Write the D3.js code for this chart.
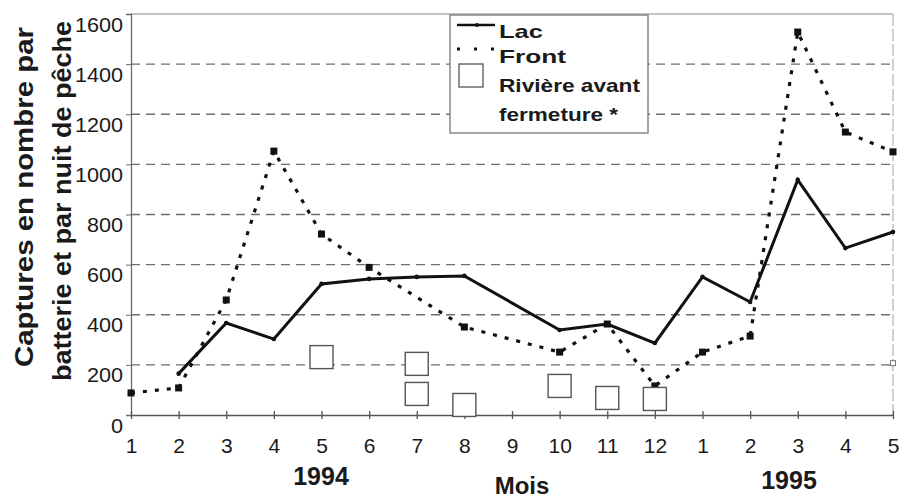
<!DOCTYPE html>
<html>
<head>
<meta charset="utf-8">
<script src="https://cdn.jsdelivr.net/npm/d3@7"></script>
<style>
  body { margin: 0; background: #fff; }
  text { font-family: "Liberation Sans", Arial, sans-serif; fill: #1a1a1a; }
</style>
</head>
<body>
<div id="chart"></div>
<script>
// Month labels along the x axis (Jan 1994 -> May 1995)
var mois = ["1", "2", "3", "4", "5", "6", "7", "8", "9", "10", "11", "12", "1", "2", "3", "4", "5"];
var yTicks = [0, 200, 400, 600, 800, 1000, 1200, 1400, 1600];

// Captures per battery per night (null = no sample)
var lac = [null, 165, 367, 303, 523, 543, 551, 555, null, 339, 363, 287, 551, 451, 938, 666, 730];
var front = [88, 108, 459, 1053, 722, 589, null, 351, null, 251, 363, 116, 251, 315, 1528, 1129, 1050];

// Rivière avant fermeture : [month index, value]
var riviere = [[4, 231], [6, 204], [6, 84], [7, 40], [9, 116], [10, 68], [11, 64]];
var riviereFin = [[16, 207]];

var width = 906, height = 500;
var svg = d3.select("#chart")
  .append("svg")
    .attr("width", width)
    .attr("height", height);

var x = d3.scaleLinear().domain([0, mois.length - 1]).range([131, 893]);
var y = d3.scaleLinear().domain([0, 1600]).range([415, 14]);

// grid lines (dashed)
svg.selectAll(".grid")
  .data(yTicks.slice(1, -1))
  .enter()
  .append("line")
  .attr("x1", 131).attr("x2", 893)
  .attr("y1", function(d) { return y(d); })
  .attr("y2", function(d) { return y(d); })
  .attr("stroke", "#6e6e6e")
  .attr("stroke-width", 1.3)
  .attr("stroke-dasharray", "9,6");

// frame top + right
svg.append("line").attr("x1", 131).attr("x2", 893).attr("y1", y(1600)).attr("y2", y(1600))
  .attr("stroke", "#8a8a8a").attr("stroke-width", 1.2);
svg.append("line").attr("x1", 893).attr("x2", 893).attr("y1", y(1600)).attr("y2", y(0))
  .attr("stroke", "#a0a0a0").attr("stroke-width", 1).attr("stroke-dasharray", "12,3");

// y axis - labels sit just under their tick
var yAxis = d3.axisLeft(y).tickValues(yTicks).tickFormat(d3.format("d")).tickSize(5).tickPadding(3);
var gy = svg.append("g").attr("transform", "translate(131,0)").call(yAxis);
gy.select(".domain").attr("stroke", "#6a6a6a").attr("stroke-width", 1.3);
gy.selectAll(".tick line").attr("stroke", "#6a6a6a");
gy.selectAll("text").attr("font-size", 20).attr("fill", "#1a1a1a").attr("dy", "0.95em")
  .attr("y", -2)
  .attr("textLength", function(d) { return String(d).length * 12; })
  .attr("lengthAdjust", "spacingAndGlyphs")
  .attr("font-family", "Liberation Sans, Arial, sans-serif");

// x axis
var xAxis = d3.axisBottom(x)
  .tickValues(d3.range(mois.length))
  .tickFormat(function(d) { return mois[d]; })
  .tickSizeInner(4).tickSizeOuter(0).tickPadding(0);
var gx = svg.append("g").attr("transform", "translate(0," + y(0) + ")").call(xAxis);
gx.select(".domain").attr("stroke", "#555").attr("stroke-width", 1.6);
gx.selectAll(".tick line").attr("y1", -4).attr("y2", 4).attr("stroke", "#555").attr("stroke-width", 1.3);
gx.selectAll("text").attr("font-size", 21).attr("fill", "#1a1a1a")
  .attr("y", 38).attr("dy", 0)
  .attr("font-family", "Liberation Sans, Arial, sans-serif");

// Front dotted line
var frontPts = front.map(function(v, i) { return [i, v]; }).filter(function(p) { return p[1] !== null; });
var lacPts = lac.map(function(v, i) { return [i, v]; }).filter(function(p) { return p[1] !== null; });
var line = d3.line()
  .x(function(p) { return x(p[0]); })
  .y(function(p) { return y(p[1]); });

svg.append("path")
  .datum(frontPts)
  .attr("d", line)
  .attr("fill", "none")
  .attr("stroke", "#111")
  .attr("stroke-width", 3.2)
  .attr("stroke-dasharray", "4,8");

svg.selectAll(".frontPt")
  .data(frontPts)
  .enter()
  .append("rect")
  .attr("x", function(p) { return x(p[0]) - 3.5; })
  .attr("y", function(p) { return y(p[1]) - 3.5; })
  .attr("width", 7).attr("height", 7)
  .attr("fill", "#111");

// Lac solid line
svg.append("path")
  .datum(lacPts)
  .attr("d", line)
  .attr("fill", "none")
  .attr("stroke", "#111")
  .attr("stroke-width", 3)
  .attr("stroke-linejoin", "miter");

svg.selectAll(".lacPt")
  .data(lacPts)
  .enter()
  .append("circle")
  .attr("cx", function(p) { return x(p[0]); })
  .attr("cy", function(p) { return y(p[1]); })
  .attr("r", 2.3)
  .attr("fill", "#111");

// Rivière squares
svg.selectAll(".riv")
  .data(riviere)
  .enter()
  .append("rect")
  .attr("x", function(p) { return x(p[0]) - 11.5; })
  .attr("y", function(p) { return y(p[1]) - 11.5; })
  .attr("width", 23).attr("height", 23)
  .attr("fill", "#fff")
  .attr("stroke", "#555")
  .attr("stroke-width", 1.4);

svg.selectAll(".rivFin")
  .data(riviereFin)
  .enter()
  .append("rect")
  .attr("x", function(p) { return x(p[0]) - 2.5; })
  .attr("y", function(p) { return y(p[1]) - 2.5; })
  .attr("width", 5).attr("height", 5)
  .attr("fill", "#fff")
  .attr("stroke", "#777")
  .attr("stroke-width", 1);

// Legend
var leg = svg.append("g");
leg.append("rect").attr("x", 450).attr("y", 15).attr("width", 198).attr("height", 118)
  .attr("fill", "#fff").attr("stroke", "#777").attr("stroke-width", 1.3);
leg.append("line").attr("x1", 457).attr("x2", 495).attr("y1", 25).attr("y2", 25)
  .attr("stroke", "#111").attr("stroke-width", 2.5);
leg.append("circle").attr("cx", 477).attr("cy", 25).attr("r", 2).attr("fill", "#111");
leg.append("line").attr("x1", 457).attr("x2", 497).attr("y1", 49).attr("y2", 49)
  .attr("stroke", "#111").attr("stroke-width", 3).attr("stroke-dasharray", "3,14");
leg.append("rect").attr("x", 459).attr("y", 64).attr("width", 24).attr("height", 23)
  .attr("fill", "#fff").attr("stroke", "#555").attr("stroke-width", 1.3);
var legText = [["Lac", 38, 44], ["Front", 63, 67], ["Rivière avant", 92, 141], ["fermeture *", 121, 119]];
leg.selectAll(".lt")
  .data(legText)
  .enter()
  .append("text")
  .attr("x", 499)
  .attr("y", function(d) { return d[1]; })
  .attr("font-size", 19)
  .attr("font-weight", "bold")
  .attr("textLength", function(d) { return d[2]; })
  .attr("lengthAdjust", "spacingAndGlyphs")
  .text(function(d) { return d[0]; });

// Axis titles
svg.append("text").attr("x", 321).attr("y", 485).attr("text-anchor", "middle")
  .attr("font-size", 25).attr("font-weight", "bold").text("1994");
svg.append("text").attr("x", 789).attr("y", 489).attr("text-anchor", "middle")
  .attr("font-size", 25).attr("font-weight", "bold").text("1995");
svg.append("text").attr("x", 522).attr("y", 494).attr("text-anchor", "middle")
  .attr("font-size", 24).attr("font-weight", "bold").text("Mois");

svg.append("text").attr("transform", "translate(33,197) rotate(-90)").attr("text-anchor", "middle")
  .attr("font-size", 26).attr("font-weight", "bold")
  .attr("textLength", 340).attr("lengthAdjust", "spacingAndGlyphs")
  .text("Captures en nombre par");
svg.append("text").attr("transform", "translate(71,201) rotate(-90)").attr("text-anchor", "middle")
  .attr("font-size", 26).attr("font-weight", "bold")
  .attr("textLength", 360).attr("lengthAdjust", "spacingAndGlyphs")
  .text("batterie et par nuit de pêche");
</script>
</body>
</html>
